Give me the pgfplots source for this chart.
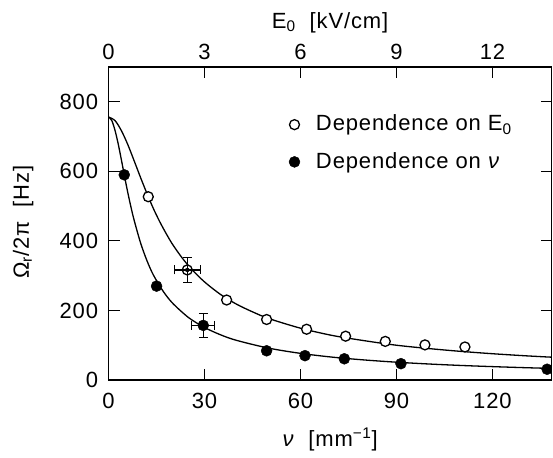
\documentclass[border=0pt]{standalone}
\usepackage{fontspec}
\setmainfont{Liberation Sans}[LetterSpace=4]
\usepackage{pgfplots}
\pgfplotsset{compat=1.18}
\begin{document}
\fontsize{22}{26}\selectfont
\begin{tikzpicture}
\pgfplotsset{
  common/.style={
    scale only axis, width=443pt, height=313pt,
    ymin=0, ymax=900,
    tick align=inside, major tick length=11pt,
    tick style={line width=1pt, black},
    axis line style={line width=1.5pt},
    every tick label/.append style={font=\fontsize{22}{26}\selectfont},
    label style={font=\fontsize{22}{26}\selectfont},
    /pgf/number format/assume math mode=true,
  },
}
\begin{axis}[
  common,
  name=main,
  xmin=0, xmax=138.5,
  xtick={0,30,...,120}, ytick={0,200,...,800},
  xtick pos=left, ytick pos=both, yticklabel pos=left,
  xticklabel style={yshift=-6pt},
  yticklabel style={xshift=-3pt},
  xlabel={\textit{ν}~~[mm\textsuperscript{−1}]},
  xlabel style={at={(axis description cs:0.5,-0.211)}, anchor=base},
  ylabel={Ω\textsubscript{r}/2π~~[Hz]},
  ylabel style={at={(axis description cs:-0.193,0.505)}, anchor=center, inner sep=0pt},
  clip marker paths=true,
  legend style={draw=none, fill=none, at={(0.40,0.86)}, anchor=north west,
    font=\fontsize{22}{26}\selectfont, row sep=14pt},
  legend cell align=left,
]
% fitted curves
\addplot[forget plot, line width=1.3pt, smooth] coordinates {
(0,756)(2,746)(4,717)(6,677)(8,630)(10,582)(12,536)(14,493)(16,455)(18,421)
(20,390)(23,351)(26,318)(30,282)(35,246)(40,218)(45,196)(50,177)(60,149)
(70,128)(80,113)(90,100)(100,90.5)(110,82.4)(120,75.6)(130,69.8)(138.5,65.6)};
\addplot[forget plot, line width=1.3pt, smooth] coordinates {
(0,756)(1,746)(2,718)(3,679)(4,633)(5,585)(6,539)(7,497)(8,459)(10,394)
(12,343)(14,302)(17,256)(20,221)(25,179.5)(30,151)(35,130)(40,114)(50,91.7)
(60,76.6)(70,65.7)(80,57.6)(90,51.2)(100,46.1)(110,41.9)(120,38.5)(130,35.5)(138.5,33.3)};
% data
\addplot[only marks, mark=*, mark size=5pt, mark options={line width=1.3pt, draw=black, fill=white}]
coordinates {(12.4,527)(24.6,316.5)(36.9,230)(49.4,174)(61.9,146)(74.1,126)(86.5,111)(98.9,101)(111.4,95)};
\addlegendentry{\hspace{14pt}Dependence on E\textsubscript{0}}
\addplot[only marks, mark=*, mark size=5.5pt, mark options={draw=black, fill=black}]
coordinates {(4.9,590)(15.0,270)(29.6,157)(49.4,84)(61.4,70)(73.7,61)(91.4,47)(137.1,31)};
\addlegendentry{\hspace{14pt}Dependence on \textit{ν}}
% error bars
\addplot[forget plot, only marks, mark=none,
  error bars/.cd, x dir=both, x explicit, y dir=both, y explicit,
  error bar style={line width=1.2pt, black},
  error mark options={rotate=90, mark size=4.5pt, line width=1.2pt, black}]
coordinates {(24.6,316.5) +- (4.1,35) (29.6,157) +- (3.6,35)};
\end{axis}
\begin{axis}[
  common,
  xmin=0, xmax=13.85,
  xtick={0,3,...,12}, ytick=\empty,
  xtick pos=right, xticklabel pos=right,
  xlabel={E\textsubscript{0}~~[kV/cm]},
  xlabel style={at={(axis description cs:0.5,1.1246)}, anchor=base},
]
\addplot[draw=none] coordinates {(0,0)};
\end{axis}
% page size as in the reference
\path (main.south west) ++(-108.6pt,-73pt) (main.south west) ++(444.4pt,380pt);
\end{tikzpicture}
\end{document}
